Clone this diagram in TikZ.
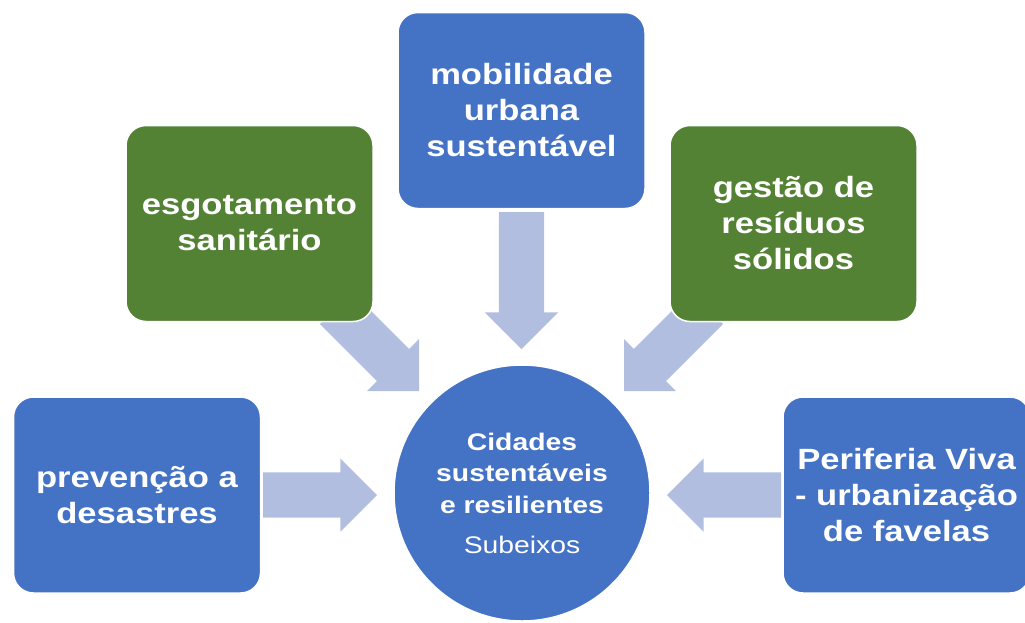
\documentclass[tikz,border=0pt]{standalone}
\usepackage{fontspec}
\setmainfont[FakeStretch=1.18]{Liberation Sans}
\usetikzlibrary{shapes.arrows}
\definecolor{bblue}{RGB}{68,114,196}
\definecolor{bgreen}{RGB}{84,130,53}
\definecolor{arrowfill}{RGB}{178,190,224}
\begin{document}
\begin{tikzpicture}[x=1pt,y=-1pt,
  box/.style={rectangle, rounded corners=20pt, minimum width=247pt, minimum height=196pt,
    draw=white, line width=1.5pt, text=white, align=center, inner sep=0pt,
    font=\bfseries\fontsize{29.3}{36}\selectfont},
  bluebox/.style={box, fill=bblue},
  greenbox/.style={box, fill=bgreen},
  blockarrow/.style={single arrow, fill=arrowfill, draw=none, inner xsep=0pt, inner ysep=22.5pt,
    outer sep=0pt, anchor=tip,
    single arrow head extend=14pt, single arrow tip angle=90, single arrow head indent=0pt}]
\useasboundingbox (0,0) rectangle (1025,622);
% block arrows
\node[blockarrow, rotate=-90, minimum height=137pt] (atop) at (521.5,349) {};
\node[blockarrow, minimum height=114pt] (aleft) at (377,495) {};
\node[blockarrow, rotate=180, minimum height=114pt] (aright) at (667,495) {};
\node[blockarrow, rotate=-45, minimum height=117.4pt] (adl) at (419,391) {};
\node[blockarrow, rotate=-135, minimum height=117.4pt] (adr) at (624,391) {};
% boxes
\node[bluebox] (mob) at (521.5,110.5) {mobilidade\\urbana\\sustentável};
\node[greenbox] (esg) at (249.5,223.5) {esgotamento\\sanitário};
\node[greenbox] (ges) at (793.5,223.5) {gestão de\\resíduos\\sólidos};
\node[bluebox] (prev) at (137,495) {prevenção a\\desastres};
\node[bluebox] (peri) at (906.5,495) {Periferia Viva\\- urbanização\\de favelas};
% centre
\node[circle, minimum size=256pt, fill=bblue, draw=white, line width=1.5pt, text=white,
  align=center, inner sep=0pt, font=\fontsize{24}{31.5}\selectfont] (cid) at (522,493)
  {\textbf{Cidades}\\\textbf{sustentáveis}\\\textbf{e resilientes}\\[8.5pt]Subeixos};
\end{tikzpicture}
\end{document}
